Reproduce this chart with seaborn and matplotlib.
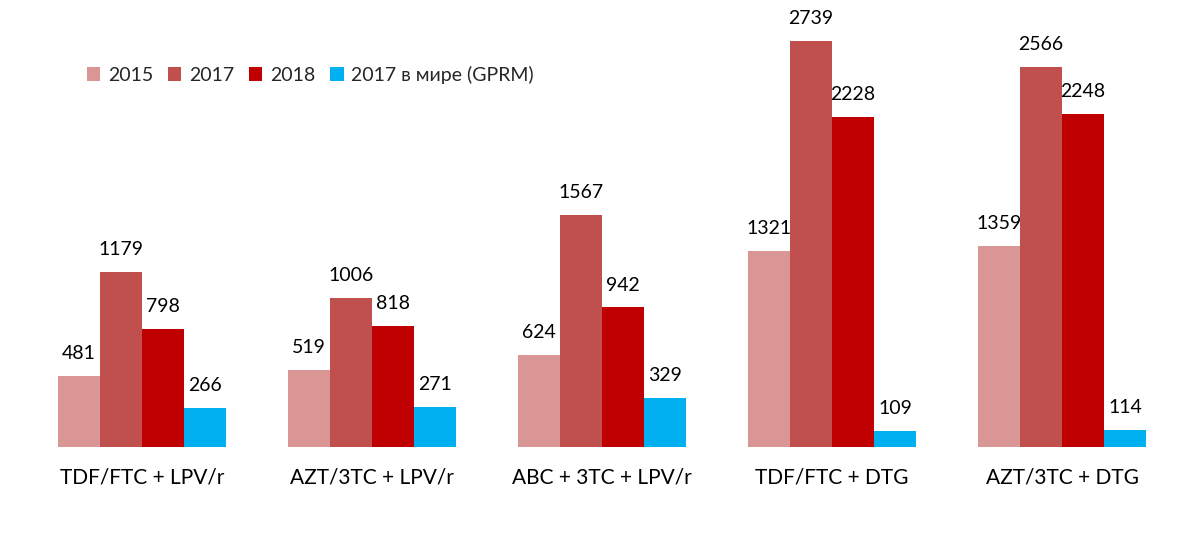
import matplotlib
matplotlib.use("Agg")
import matplotlib.pyplot as plt
import seaborn as sns
import pandas as pd

categories = ["TDF/FTC + LPV/r", "AZT/3TC + LPV/r", "ABC + 3TC + LPV/r", "TDF/FTC + DTG", "AZT/3TC + DTG"]
series = ["2015", "2017", "2018", "2017 в мире (GPRM)"]
v2015 = [481, 519, 624, 1321, 1359]
v2017 = [1179, 1006, 1567, 2739, 2566]
v2018 = [798, 818, 942, 2228, 2248]
vworld = [266, 271, 329, 109, 114]
colors = ["#D99694", "#C0504D", "#C00000", "#00B0F0"]

rows = []
for s, vals in zip(series, [v2015, v2017, v2018, vworld]):
    for c, v in zip(categories, vals):
        rows.append({"cat": c, "series": s, "value": v})
df = pd.DataFrame(rows)

sns.set_theme(style="white")
plt.rcParams['font.family'] = ['Lato', 'DejaVu Sans']

fig = plt.figure(figsize=(12.01, 5.37), dpi=100)
ax = fig.add_axes([27/1201, (537-447)/537, 1150/1201, 444.6/537])
sns.barplot(data=df, x="cat", y="value", hue="series", palette=colors,
            width=0.73, gap=0, saturation=1, ax=ax, errorbar=None, linewidth=0)
ax.set_ylim(0, 3000)
ax.set_xlim(-0.5, 4.5)
for cont in ax.containers:
    ax.bar_label(cont, padding=10, fontsize=14, color="#000000")
ax.set_xlabel("")
ax.set_ylabel("")
ax.set_yticks([])
ax.tick_params(axis="x", length=0, labelsize=15, pad=15, colors="#000000")
for sp in ax.spines.values():
    sp.set_visible(False)
leg = ax.legend(loc="upper left", bbox_to_anchor=(42/1150, 1 - 46/444.6), ncol=4, frameon=False,
                fontsize=14, handlelength=0.7, handleheight=0.7, handletextpad=0.4, columnspacing=0.75)
fig.savefig("out.png", dpi=100)
